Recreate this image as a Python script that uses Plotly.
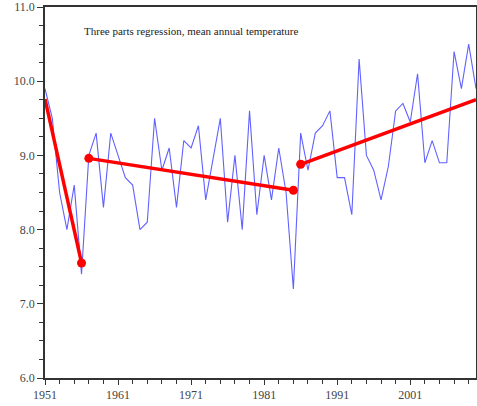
import plotly.graph_objects as go

years = list(range(1951, 2011))
temps = [9.9, 9.5, 8.5, 8.0, 8.6, 7.4, 9.0, 9.3, 8.3, 9.3,
         9.0, 8.7, 8.6, 8.0, 8.1, 9.5, 8.8, 9.1, 8.3, 9.2,
         9.1, 9.4, 8.4, 8.95, 9.5, 8.1, 9.0, 8.0, 9.6, 8.2,
         9.0, 8.4, 9.1, 8.5, 7.2, 9.3, 8.8, 9.3, 9.4, 9.6,
         8.7, 8.7, 8.2, 10.3, 9.0, 8.8, 8.4, 8.85, 9.6, 9.7,
         9.45, 10.1, 8.9, 9.2, 8.9, 8.9, 10.4, 9.9, 10.5, 9.9]

seg1_x = [1951, 1956]
seg1_y = [9.76, 7.55]
seg2_x = [1957, 1985]
seg2_y = [8.96, 8.53]
seg3_x = [1986, 2010]
seg3_y = [8.88, 9.75]

x_tickvals = [1951, 1961, 1971, 1981, 1991, 2001]
y_tickvals = [6.0, 7.0, 8.0, 9.0, 10.0, 11.0]
title_text = "Three parts regression, mean annual temperature"

fig = go.Figure()
fig.add_trace(go.Scatter(x=years, y=temps, mode="lines",
                         line=dict(color="#6161ff", width=1.1),
                         showlegend=False, hoverinfo="skip"))
red = "#ff0000"
for sx, sy, sizes in [(seg1_x, seg1_y, [0, 9]),
                      (seg2_x, seg2_y, [9, 9]),
                      (seg3_x, seg3_y, [9, 0])]:
    fig.add_trace(go.Scatter(x=sx, y=sy, mode="lines+markers",
                             line=dict(color=red, width=3.5),
                             marker=dict(size=sizes, color=red,
                                         line=dict(width=0), opacity=1),
                             showlegend=False))

font_serif = "Liberation Serif, Times New Roman, serif"
fig.add_annotation(text=title_text, xref="paper", yref="paper",
                   x=0.085, y=0.935, xanchor="left", yanchor="middle",
                   showarrow=False,
                   font=dict(family=font_serif, size=11, color="#222"))

fig.update_xaxes(range=[1951, 2010], tickvals=x_tickvals,
                 ticktext=[str(v) for v in x_tickvals],
                 showgrid=False, zeroline=False,
                 showline=True, linecolor="#333", linewidth=1.5, mirror=True,
                 ticks="outside", ticklen=5, tickcolor="#333", tickwidth=1,
                 ticklabelstandoff=0,
                 minor=dict(dtick=2, tick0=1951, ticks="outside", ticklen=4,
                            tickcolor="#333", showgrid=False),
                 tickfont=dict(family=font_serif, size=12, color="#444"))
fig.update_yaxes(range=[6, 11], tickvals=y_tickvals,
                 ticktext=["%.1f" % v for v in y_tickvals],
                 showgrid=False, zeroline=False,
                 showline=True, linecolor="#333", linewidth=1.5, mirror=True,
                 ticks="outside", ticklen=6, tickcolor="#333", tickwidth=1,
                 minor=dict(dtick=0.25, tick0=6, ticks="outside", ticklen=4,
                            tickcolor="#333", showgrid=False),
                 tickfont=dict(family=font_serif, size=12, color="#444"))

fig.update_layout(width=477, height=406,
                  margin=dict(l=45, r=1, t=7, b=28, autoexpand=False),
                  paper_bgcolor="white", plot_bgcolor="white")

fig.write_html("out.html", config={"displayModeBar": False},
               post_script="document.body.style.margin='0px';"
                           "document.body.style.overflow='hidden';")
